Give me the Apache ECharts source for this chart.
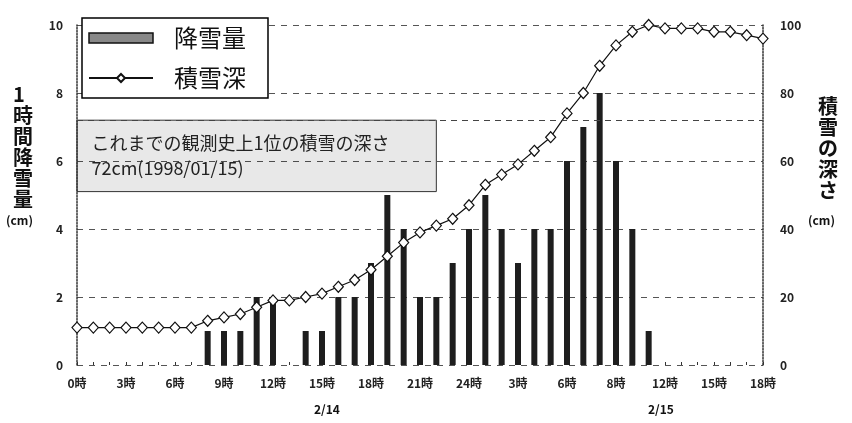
<!DOCTYPE html>
<html><head><meta charset="utf-8">
<script src="https://cdn.jsdelivr.net/npm/echarts@6/dist/echarts.min.js"></script>
<style>html,body{margin:0;padding:0;background:#fff}#c{width:852px;height:423px}</style>
</head><body><div id="c"></div>
<script>
const hours = Array.from({length:43},(_, i)=>i);
const tickLabels = ['0時','3時','6時','9時','12時','15時','18時','21時','24時','3時','6時','8時','12時','15時','18時'];
const snowfall = [0,0,0,0,0,0,0,0,1,1,1,2,2,0,1,1,2,2,3,5,4,2,2,3,4,5,4,3,4,4,6,7,8,6,4,1,0,0,0,0,0,0,0];
const snowDepth = [11,11,11,11,11,11,11,11,13,14,15,17,19,19,20,21,23,25,28,32,36,39,41,43,47,53,56,59,63,67,74,80,88,94,98,100,99,99,99,98,98,97,96];
const leftTicks = [0,2,4,6,8,10];
const rightTicks = [0,20,40,60,80,100];
const recordDepth = 72;
const recordText = 'これまでの観測史上1位の積雪の深さ\n72cm(1998/01/15)';

const FONT = '"Noto Sans CJK JP", "DejaVu Sans", sans-serif';
const chart = echarts.init(document.getElementById('c'));
chart.setOption({
  backgroundColor:'#fff',
  animation:false,
  textStyle:{fontFamily:FONT},
  grid:{left:77, right:89, top:25, bottom:58},
  legend:{
    orient:'vertical', left:82, top:18,
    backgroundColor:'#fff', borderColor:'#000', borderWidth:1.5, borderRadius:0,
    padding:[8,22,8,6], itemWidth:64, itemHeight:10, itemGap:16,
    textStyle:{fontSize:24, color:'#111', fontFamily:FONT, padding:[0,0,0,16]},
    data:[
      {name:'降雪量', icon:'rect', itemStyle:{color:'#888', borderColor:'#111', borderWidth:1.5}},
      {name:'積雪深'}
    ]
  },
  xAxis:{
    type:'category', data:hours, boundaryGap:false,
    axisLine:{show:false},
    axisTick:{show:true, interval:0, inside:true, length:3, lineStyle:{color:'#333'}},
    axisLabel:{interval:2, margin:12, fontSize:12, fontWeight:'bold', color:'#222',
      formatter:(v,i)=>tickLabels[i/3]},
    splitLine:{show:false}
  },
  yAxis:[
    {type:'value', min:0, max:10, interval:2,
     axisLine:{show:true, lineStyle:{color:'#333', type:'dotted', width:1.5}},
     axisTick:{show:false},
     axisLabel:{margin:14, fontSize:12, fontWeight:'bold', color:'#222',
       formatter:v=>leftTicks.includes(v)?String(v):''},
     splitLine:{show:true, lineStyle:{color:'#555', type:[6,6], width:1}}},
    {type:'value', min:0, max:100, interval:20,
     axisLine:{show:true, lineStyle:{color:'#333', type:'dotted', width:1.5}},
     axisTick:{show:false},
     axisLabel:{margin:17, fontSize:12, fontWeight:'bold', color:'#222',
       formatter:v=>rightTicks.includes(v)?String(v):''},
     splitLine:{show:false}}
  ],
  series:[
    {name:'降雪量', type:'bar', yAxisIndex:0, data:snowfall, barWidth:6,
     itemStyle:{color:'#1e1e1e'}, z:2},
    {name:'積雪深', type:'line', yAxisIndex:1, data:snowDepth,
     symbol:'diamond', symbolSize:[10,11], showAllSymbol:true,
     lineStyle:{color:'#111', width:1.2},
     itemStyle:{color:'#fff', borderColor:'#111', borderWidth:1.2}, z:3,
     markLine:{silent:true, symbol:'none', label:{show:false},
       lineStyle:{color:'#444', type:[6,5], width:1},
       data:[{yAxis:recordDepth}]},
     markArea:{silent:true,
       itemStyle:{color:'rgba(0,0,0,0.09)', borderColor:'#333', borderWidth:1},
       label:{show:true, position:'insideLeft', distance:15, fontSize:18, lineHeight:25, color:'#222', fontFamily:FONT},
       data:[[{xAxis:0.25, yAxis:recordDepth, name:recordText},{xAxis:21.8, yAxis:51}]]}
    }
  ],
  graphic:[
    {type:'text', left:13, top:84, style:{text:'1\n時\n間\n降\n雪\n量', font:'bold 20px '+FONT, lineHeight:21, fill:'#111', textAlign:'left'}},
    {type:'text', left:6, top:214, style:{text:'(cm)', font:'bold 12px '+FONT, fill:'#111'}},
    {type:'text', left:818, top:96, style:{text:'積\n雪\nの\n深\nさ', font:'bold 20px '+FONT, lineHeight:21, fill:'#111'}},
    {type:'text', left:808, top:214, style:{text:'(cm)', font:'bold 12px '+FONT, fill:'#111'}},
    {type:'text', left:314, top:403, style:{text:'2/14', font:'bold 12px '+FONT, fill:'#111'}},
    {type:'text', left:648, top:403, style:{text:'2/15', font:'bold 12px '+FONT, fill:'#111'}}
  ]
});
</script></body></html>
